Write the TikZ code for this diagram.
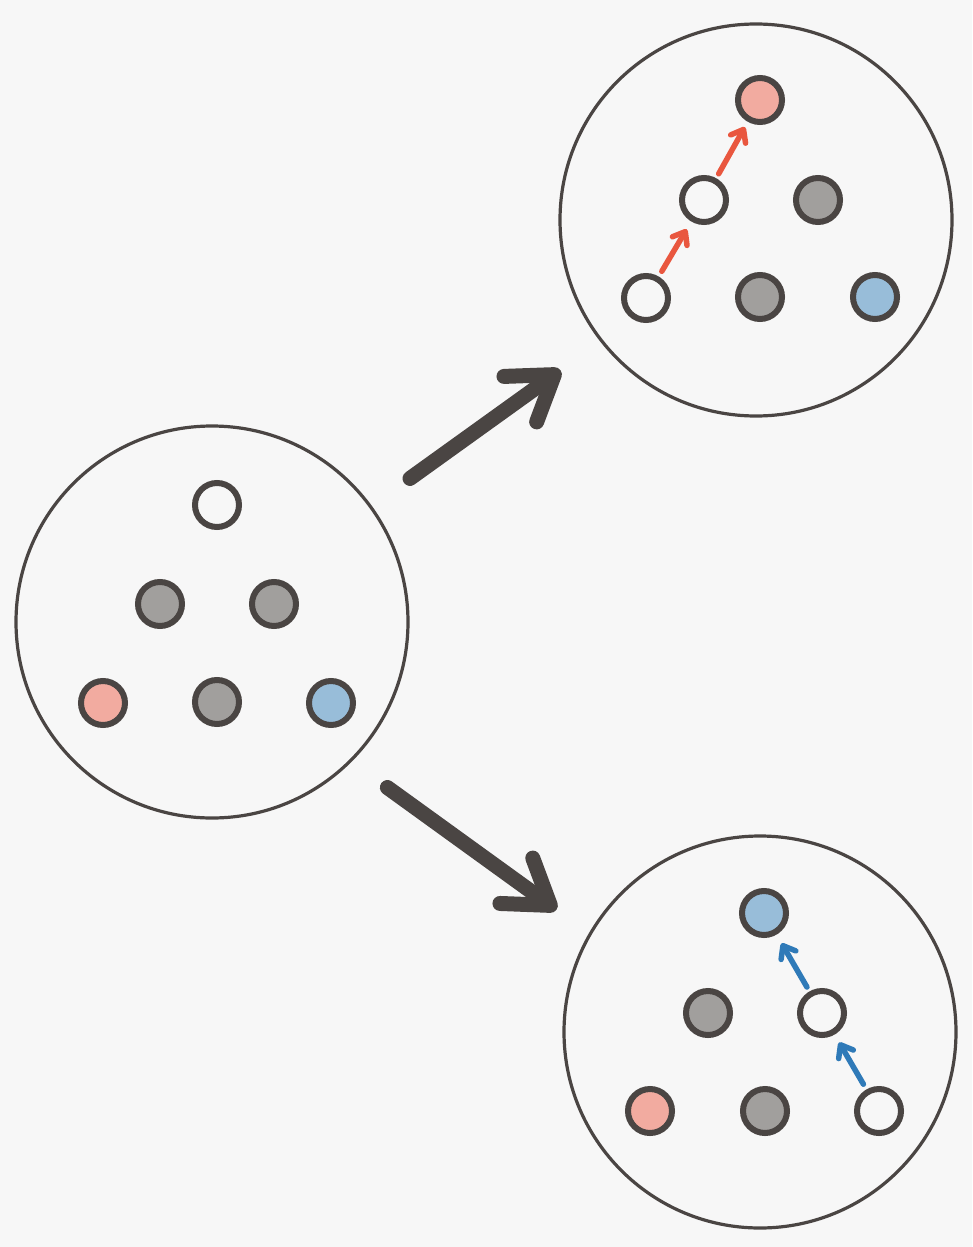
\documentclass[tikz,border=0pt]{standalone}
\usepackage{tikz}
\usetikzlibrary{arrows.meta}
\definecolor{paper}{HTML}{F7F7F7}
\definecolor{ink}{HTML}{4A4543}
\definecolor{stone}{HTML}{A19F9D}
\definecolor{rose}{HTML}{F2ABA0}
\definecolor{sky}{HTML}{98BDD9}
\definecolor{redpath}{HTML}{E9573F}
\definecolor{bluepath}{HTML}{2F7AB8}
\tikzstyle{group} = [circle,draw=ink,line width=3.2pt,minimum size=392pt,inner sep=0pt]
\tikzstyle{ball} = [circle,draw=ink,line width=6pt,minimum size=44pt,inner sep=0pt]
\tikzstyle{blank} = [ball,fill=paper]
\tikzstyle{grey} = [ball,fill=stone]
\tikzstyle{pink} = [ball,fill=rose]
\tikzstyle{blue} = [ball,fill=sky]
\tikzstyle{bigarrow} = [draw=ink,line width=15pt,line cap=round,-{Straight Barb[length=42pt,width=56pt,round]}]
\tikzstyle{redstep} = [draw=redpath,line width=5.5pt,line cap=round,-{Straight Barb[length=11pt,width=17pt,round]}]
\tikzstyle{bluestep} = [draw=bluepath,line width=5.5pt,line cap=round,-{Straight Barb[length=11pt,width=17pt,round]}]
\newcommand{\ball}[4]{
	\node(#1) at (#3,#4) [#2] {};
}
\begin{document}
\begin{tikzpicture}[x=1pt,y=-1pt]
	\path[use as bounding box,fill=paper] (0,0) rectangle (972,1247);

	\node(start) at (212,622) [group] {};
	\node(upper) at (756,220) [group] {};
	\node(lower) at (760,1032) [group] {};

	\ball{s1}{blank}{217}{505};
	\ball{s2}{grey}{160}{604};
	\ball{s3}{grey}{274}{604};
	\ball{s4}{pink}{103}{703};
	\ball{s5}{grey}{217}{702};
	\ball{s6}{blue}{331}{703};

	\ball{u1}{pink}{760}{100};
	\ball{u2}{blank}{704}{200};
	\ball{u3}{grey}{818}{200};
	\ball{u4}{blank}{646}{298};
	\ball{u5}{grey}{760}{297};
	\ball{u6}{blue}{875}{297};

	\ball{l1}{blue}{764}{913};
	\ball{l2}{grey}{708}{1013};
	\ball{l3}{blank}{822}{1013};
	\ball{l4}{pink}{650}{1111};
	\ball{l5}{grey}{765}{1111};
	\ball{l6}{blank}{879}{1111};

	\draw[bigarrow,shorten <=47pt,shorten >=49pt] (start.36) -- (upper.218);
	\draw[bigarrow,shorten <=44pt,shorten >=40pt] (start.-45) -- (lower.150);

	\draw[redstep,shorten <=6pt,shorten >=9pt] (u4) -- (u2);
	\draw[redstep,shorten <=5pt,shorten >=6pt] (u2) -- (u1);
	\draw[bluestep,shorten <=6pt,shorten >=9pt] (l6) -- (l3);
	\draw[bluestep,shorten <=5pt,shorten >=10pt] (l3) -- (l1);
\end{tikzpicture}
\end{document}
